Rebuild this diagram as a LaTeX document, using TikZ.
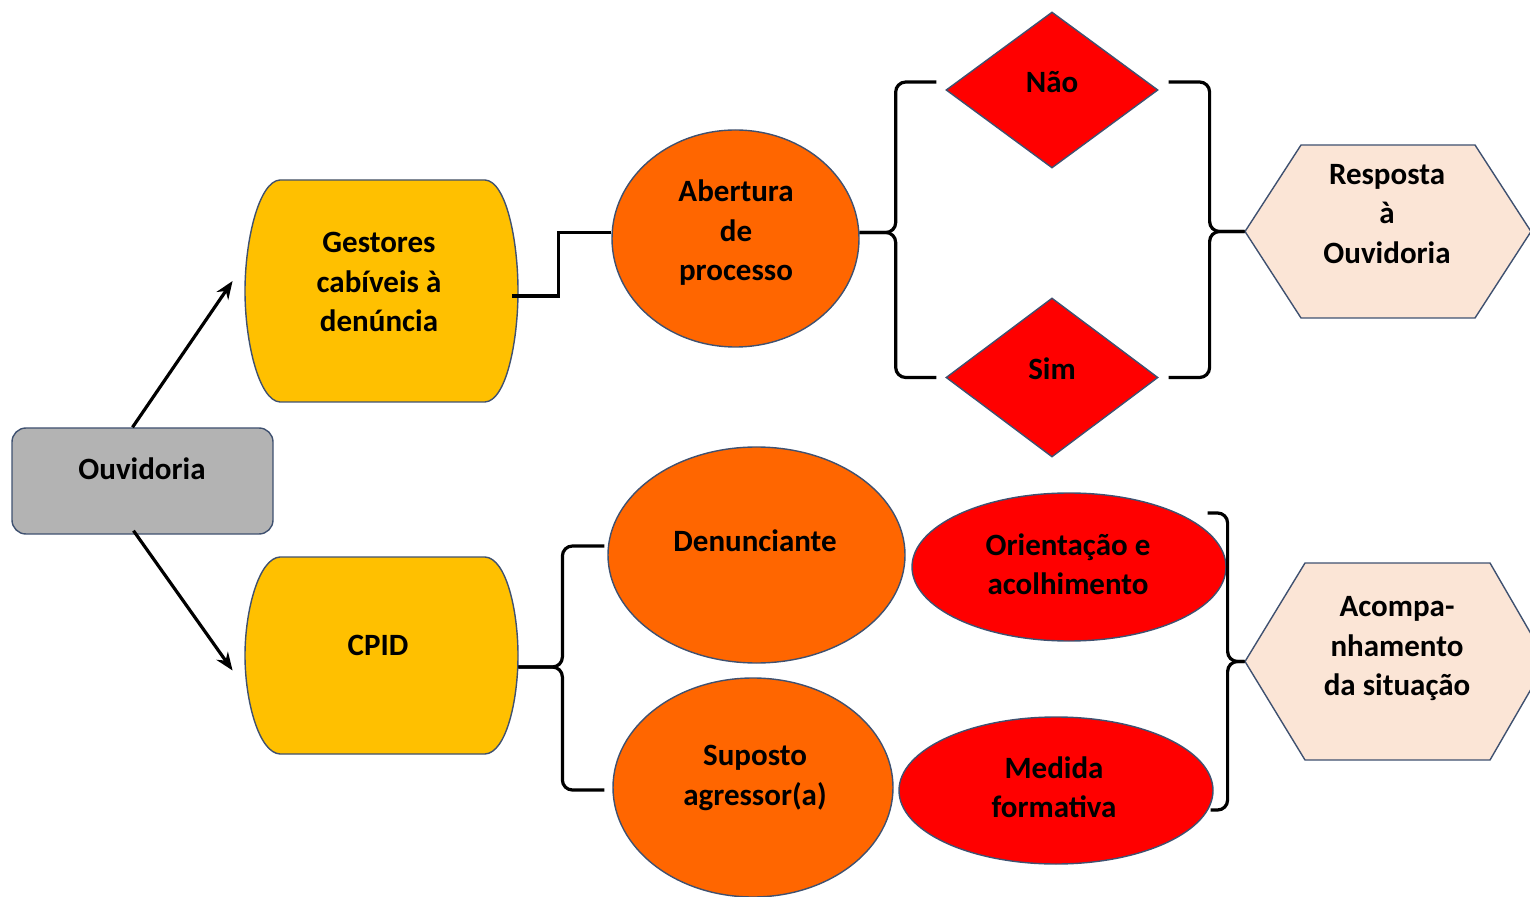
\documentclass[tikz,border=0pt]{standalone}
\usepackage{fontspec}
\setmainfont{Carlito}
\usetikzlibrary{shapes.geometric,arrows.meta,calc}
\definecolor{gold}{HTML}{FFC000}
\definecolor{orng}{HTML}{FF6600}
\definecolor{redd}{HTML}{FF0000}
\definecolor{peach}{HTML}{FBE5D6}
\definecolor{grayb}{HTML}{B3B3B3}
\definecolor{edge}{HTML}{3F5170}
\begin{document}
\begin{tikzpicture}[x=0.5pt,y=-0.5pt,
  shapeline/.style={draw=edge, line width=0.7pt},
  anchorbox/.style={rectangle, draw=none, inner sep=0pt},
  oval/.style={ellipse, shapeline, inner sep=0pt},
  rhomb/.style={diamond, shapeline, fill=redd, inner sep=0pt},
  txt/.style={font=\bfseries\fontsize{15.5}{19.75}\selectfont, align=center, inner sep=0pt},
  conn/.style={line width=1.6pt, black},
  arr/.style={conn, -{Stealth[length=9pt,width=7pt]}},
  brace/.style={conn, rounded corners=5pt}
]
\useasboundingbox (0,0) rectangle (1530,897);
\clip (0,0) rectangle (1530,897);

% Ouvidoria
\node[rectangle, rounded corners=7pt, shapeline, fill=grayb, minimum width=130.5pt, minimum height=53pt] (ouv) at (142.5,481) {};

% Gestores (barrel)
\node[anchorbox, minimum width=136.5pt, minimum height=111pt] (gest) at (381.5,291) {};
\filldraw[shapeline, fill=gold] (280,180) -- (485,180) .. controls (506,181) and (518,240) .. (518,291) .. controls (518,342) and (506,401) .. (485,402) -- (280,402) .. controls (259,401) and (245,342) .. (245,291) .. controls (245,240) and (259,181) .. (280,180) -- cycle;

% CPID (barrel)
\node[anchorbox, minimum width=136.5pt, minimum height=98.5pt] (cpid) at (381.5,655.5) {};
\filldraw[shapeline, fill=gold] (280,557) -- (485,557) .. controls (506,558) and (518,610) .. (518,655.5) .. controls (518,701) and (506,753) .. (485,754) -- (280,754) .. controls (259,753) and (245,701) .. (245,655.5) .. controls (245,610) and (259,558) .. (280,557) -- cycle;

% upper branch
\node[oval, fill=orng, minimum width=123.5pt, minimum height=108.5pt] (abert) at (735.5,238.5) {};
\node[rhomb, minimum width=106pt, minimum height=78pt] (nao) at (1052,90) {};
\node[rhomb, minimum width=106pt, minimum height=79.5pt] (sim) at (1052,377.5) {};
\node[anchorbox, minimum width=143pt, minimum height=86.5pt] (resp) at (1388,231.5) {};
\filldraw[shapeline, fill=peach] (1245,231.5) -- (1301,145) -- (1475,145) -- (1531,231.5) -- (1475,318) -- (1301,318) -- cycle;

% lower branch
\node[oval, fill=orng, minimum width=148.5pt, minimum height=108pt] (denun) at (756.5,555) {};
\node[oval, fill=orng, minimum width=140pt, minimum height=109.5pt] (supos) at (753,787.5) {};
\node[oval, fill=redd, minimum width=157pt, minimum height=74pt] (orient) at (1069,567) {};
\node[oval, fill=redd, minimum width=157pt, minimum height=73.5pt] (medida) at (1056,790.5) {};
\node[anchorbox, minimum width=151pt, minimum height=98.5pt] (acomp) at (1396,661.5) {};
\filldraw[shapeline, fill=peach] (1245,661.5) -- (1305,563) -- (1490,563) -- (1547,661.5) -- (1490,760) -- (1305,760) -- cycle;

% connectors
\draw[arr] ([xshift=-5pt]ouv.north) -- ([xshift=-6pt,yshift=5pt]gest.west);
\draw[arr] ([xshift=-4.5pt,yshift=2pt]ouv.south) -- ([xshift=-6pt,yshift=-7.5pt]cpid.west);
\draw[conn] ([xshift=-3pt,yshift=-2.5pt]gest.east) -- ++(46,0) |- ([yshift=3pt]abert.west);

\draw[brace] ([yshift=3pt]abert.east) -- ++(36,0) |- ([xshift=-4.5pt,yshift=4pt]nao.west);
\draw[brace] ([yshift=3pt]abert.east) -- ++(36,0) |- ([xshift=-4.5pt]sim.west);
\draw[brace] ([xshift=5pt,yshift=4pt]nao.east) -| ([xshift=-17.5pt]resp.west) -- (resp.west);
\draw[brace] ([xshift=5pt]sim.east) -| ([xshift=-17.5pt]resp.west) -- (resp.west);

\draw[brace] ([yshift=-5.75pt]cpid.east) -- ++(44,0) |- ([xshift=-1.5pt,yshift=4.5pt]denun.west);
\draw[brace] ([yshift=-5.75pt]cpid.east) -- ++(44,0) |- ([xshift=-4pt,yshift=-1.25pt]supos.west);

\draw[brace] ([xshift=-9.5pt,yshift=27pt]orient.east) -| ([xshift=-8.5pt]acomp.west) -- (acomp.west);
\draw[brace] ([xshift=-1.5pt,yshift=-9.75pt]medida.east) -| ([xshift=-8.5pt]acomp.west) -- (acomp.west);

% texts
\node[txt] (t-ouv) at (142,469) {Ouvidoria};
\node[txt] (t-gest) at (379,282) {Gestores\\cabíveis à\\denúncia};
\node[txt] (t-cpid) at (378,645) {CPID};
\node[txt] (t-abert) at (736,233) {Abertura\\de\\processo};
\node[txt] (t-nao) at (1052,82) {Não};
\node[txt] (t-sim) at (1052,369) {Sim};
\node[txt] (t-resp) at (1387,214) {Resposta\\à\\Ouvidoria};
\node[txt] (t-denun) at (755,541) {Denunciante};
\node[txt] (t-supos) at (755,778) {Suposto\\agressor(a)};
\node[txt] (t-orient) at (1068,564) {Orientação e\\acolhimento};
\node[txt] (t-medida) at (1054,787) {Medida\\formativa};
\node[txt] (t-acomp) at (1397,649) {Acompa-\\nhamento\\da situação};
\end{tikzpicture}
\end{document}
